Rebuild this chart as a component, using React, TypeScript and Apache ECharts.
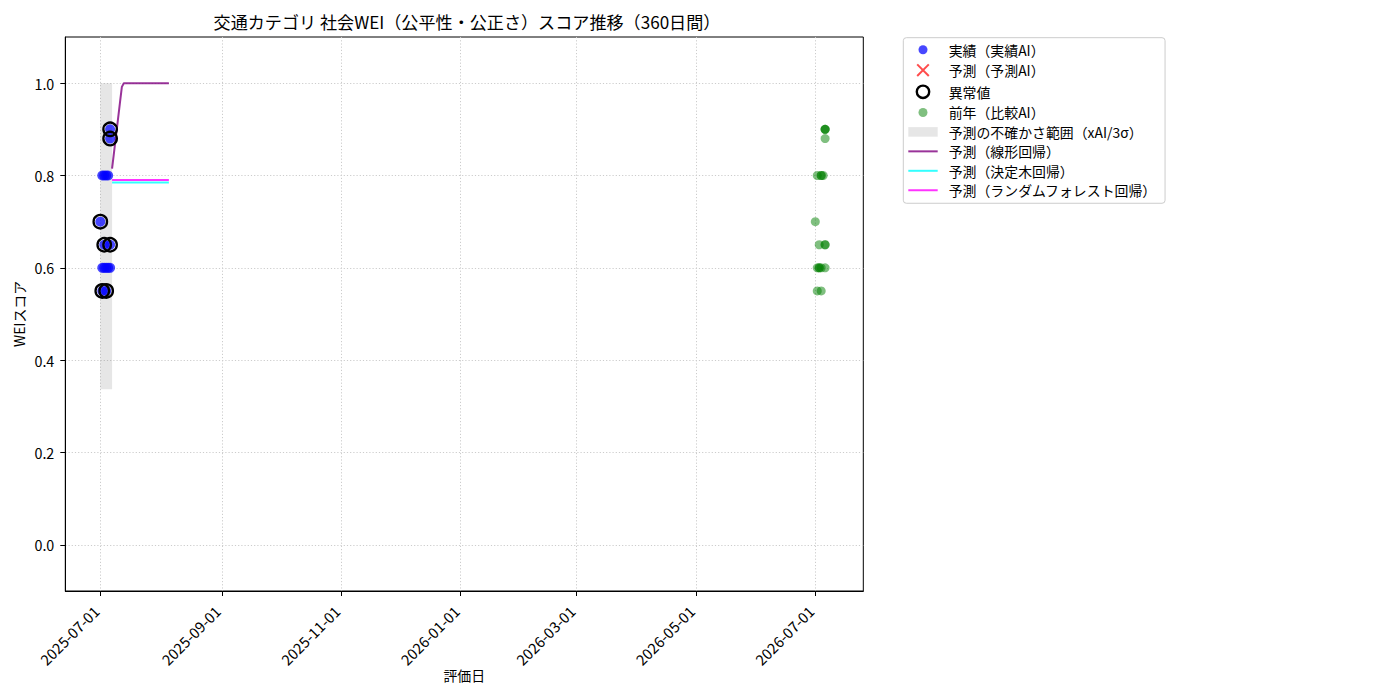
import React, { useEffect, useRef } from 'react';
import * as echarts from 'echarts';

const FONT = '"Noto Sans CJK JP", "Noto Sans", sans-serif';

const TITLE = '交通カテゴリ 社会WEI（公平性・公正さ）スコア推移（360日間）';
const X_NAME = '評価日';
const Y_NAME = 'WEIスコア';

const X_TICKS = ['2025-07-01', '2025-09-01', '2025-11-01', '2026-01-01', '2026-03-01', '2026-05-01', '2026-07-01'];
const Y_TICKS = [0.0, 0.2, 0.4, 0.6, 0.8, 1.0];
const X_MIN = '2025-06-13T03:00:00Z';
const X_MAX = '2026-07-25T12:00:00Z';
const Y_MIN = -0.1;
const Y_MAX = 1.1;

const NAME_ACTUAL = '実績（実績AI）';
const NAME_PRED = '予測（予測AI）';
const NAME_ANOM = '異常値';
const NAME_PREV = '前年（比較AI）';
const NAME_BAND = '予測の不確かさ範囲（xAI/3σ）';
const NAME_LIN = '予測（線形回帰）';
const NAME_TREE = '予測（決定木回帰）';
const NAME_RF = '予測（ランダムフォレスト回帰）';

// 実績
const actualDates = [
  '2025-07-01',
  '2025-07-02', '2025-07-02', '2025-07-02',
  '2025-07-03', '2025-07-03', '2025-07-03',
  '2025-07-04', '2025-07-04', '2025-07-04',
  '2025-07-05', '2025-07-05',
  '2025-07-06', '2025-07-06', '2025-07-06', '2025-07-06',
];
const actualValues = [
  0.70,
  0.80, 0.60, 0.55,
  0.80, 0.60, 0.65,
  0.80, 0.60, 0.55,
  0.80, 0.60,
  0.90, 0.88, 0.65, 0.60,
];

// 予測AI（点なし）
const predDates: string[] = [];
const predValues: number[] = [];

// 異常値
const anomalyDates = ['2025-07-01', '2025-07-02', '2025-07-03', '2025-07-04', '2025-07-06', '2025-07-06', '2025-07-06'];
const anomalyValues = [0.70, 0.55, 0.65, 0.55, 0.90, 0.88, 0.65];

// 前年（比較AI）
const prevDates = [
  '2026-07-01',
  '2026-07-02', '2026-07-02', '2026-07-02',
  '2026-07-03', '2026-07-03', '2026-07-03',
  '2026-07-04', '2026-07-04', '2026-07-04', '2026-07-04',
  '2026-07-05',
  '2026-07-06', '2026-07-06', '2026-07-06', '2026-07-06', '2026-07-06', '2026-07-06', '2026-07-06',
];
const prevValues = [
  0.70,
  0.80, 0.60, 0.55,
  0.60, 0.60, 0.65,
  0.80, 0.80, 0.60, 0.55,
  0.80,
  0.90, 0.90, 0.90, 0.88, 0.65, 0.65, 0.60,
];

// 不確かさ範囲
const bandDates = ['2025-07-01', '2025-07-02', '2025-07-03', '2025-07-04', '2025-07-05', '2025-07-06', '2025-07-07'];
const bandLower = [0.337, 0.337, 0.337, 0.337, 0.337, 0.337, 0.337];
const bandUpper = [1.0, 1.0, 1.0, 1.0, 1.0, 1.0, 1.0];

// 予測
const forecastDates = [
  '2025-07-07', '2025-07-08', '2025-07-09', '2025-07-10', '2025-07-11', '2025-07-12', '2025-07-13',
  '2025-07-14', '2025-07-15', '2025-07-16', '2025-07-17', '2025-07-18', '2025-07-19', '2025-07-20',
  '2025-07-21', '2025-07-22', '2025-07-23', '2025-07-24', '2025-07-25', '2025-07-26', '2025-07-27',
  '2025-07-28', '2025-07-29', '2025-07-30', '2025-07-31', '2025-08-01', '2025-08-02', '2025-08-03',
  '2025-08-04', '2025-08-05',
];
const linearValues = [
  0.815, 0.850, 0.886, 0.921, 0.957, 0.992, 1.0,
  1.0, 1.0, 1.0, 1.0, 1.0, 1.0, 1.0,
  1.0, 1.0, 1.0, 1.0, 1.0, 1.0, 1.0,
  1.0, 1.0, 1.0, 1.0, 1.0, 1.0, 1.0,
  1.0, 1.0,
];
const treeValues = [
  0.785, 0.785, 0.785, 0.785, 0.785, 0.785, 0.785,
  0.785, 0.785, 0.785, 0.785, 0.785, 0.785, 0.785,
  0.785, 0.785, 0.785, 0.785, 0.785, 0.785, 0.785,
  0.785, 0.785, 0.785, 0.785, 0.785, 0.785, 0.785,
  0.785, 0.785,
];
const forestValues = [
  0.79, 0.79, 0.79, 0.79, 0.79, 0.79, 0.79,
  0.79, 0.79, 0.79, 0.79, 0.79, 0.79, 0.79,
  0.79, 0.79, 0.79, 0.79, 0.79, 0.79, 0.79,
  0.79, 0.79, 0.79, 0.79, 0.79, 0.79, 0.79,
  0.79, 0.79,
];

const ts = (d: string) => +new Date(d.length === 10 ? d + 'T00:00:00Z' : d);
const pairs = (dates: string[], vals: number[]) => dates.map((d, i) => [ts(d), vals[i]]);

const BLUE = 'rgba(0,0,255,0.72)';
const RED = 'rgba(255,0,0,0.7)';
const GREEN = 'rgba(0,128,0,0.5)';
const BAND = 'rgba(128,128,128,0.2)';
const PURPLE = 'rgba(128,0,128,0.8)';
const CYAN = 'rgba(0,255,255,0.8)';
const MAGENTA = 'rgba(255,0,255,0.8)';

const ICON_DOT = 'path://M0 0 M14 14 M11.5 7 A4.5 4.5 0 1 1 2.5 7 A4.5 4.5 0 1 1 11.5 7 Z';
const ICON_RING = 'path://M0 0 M14 14 M13.2 7 A6.2 6.2 0 1 1 0.8 7 A6.2 6.2 0 1 1 13.2 7 Z';
const ICON_X = 'path://M0 0 M14 14 M1.2 1.2 L12.8 12.8 M12.8 1.2 L1.2 12.8';
const ICON_BAND = 'path://M0 0 M0 2.2 L29.4 2.2 L29.4 11.8 L0 11.8 Z M29.4 14';

export default function App() {
  const ref = useRef<HTMLDivElement>(null);

  useEffect(() => {
    if (!ref.current) return;
    const chart = echarts.init(ref.current, undefined, { renderer: 'svg' });
    const bandTs = bandDates.map(ts);
    const xTickTs = X_TICKS.map(ts);

    const option: any = {
      animation: false,
      backgroundColor: '#ffffff',
      textStyle: { fontFamily: FONT, color: '#000' },
      title: {
        text: TITLE,
        left: 462,
        top: 8,
        textAlign: 'center',
        textStyle: { fontFamily: FONT, fontSize: 17.1, fontWeight: 'normal', color: '#000' },
      },
      grid: {
        left: 65.3,
        top: 37,
        width: 798,
        height: 554,
        show: true,
        borderColor: '#000',
        borderWidth: 1,
        backgroundColor: 'transparent',
        containLabel: false,
        outerBoundsMode: 'none',
      },
      legend: {
        orient: 'vertical',
        left: 903.3,
        top: 37.7,
        itemWidth: 29.4,
        itemHeight: 14,
        itemGap: 5.45,
        padding: [5, 8, 6, 4],
        borderColor: '#cccccc',
        borderWidth: 1,
        borderRadius: 3,
        backgroundColor: '#ffffff',
        selectedMode: false,
        textStyle: { fontFamily: FONT, fontSize: 13.9, lineHeight: 14, color: '#000', padding: [0, 0, 0, 6] },
        data: [
          { name: NAME_ACTUAL, icon: ICON_DOT, itemStyle: { opacity: 1 } },
          { name: NAME_PRED, icon: ICON_X, itemStyle: { color: 'transparent', borderColor: RED, borderWidth: 2, opacity: 1 } },
          { name: NAME_ANOM, icon: ICON_RING, itemStyle: { color: 'transparent', borderColor: '#000', borderWidth: 2.4, opacity: 1 } },
          { name: NAME_PREV, icon: ICON_DOT, itemStyle: { color: GREEN, opacity: 1 } },
          { name: NAME_BAND, icon: ICON_BAND, itemStyle: { color: BAND, opacity: 1 } },
          { name: NAME_LIN, itemStyle: { opacity: 0 } },
          { name: NAME_TREE, itemStyle: { opacity: 0 } },
          { name: NAME_RF, itemStyle: { opacity: 0 } },
        ],
      },
      xAxis: {
        type: 'value',
        min: ts(X_MIN),
        max: ts(X_MAX),
        name: X_NAME,
        nameLocation: 'middle',
        nameGap: 77,
        nameMoveOverlap: false,
        nameTextStyle: { fontFamily: FONT, fontSize: 13.9, color: '#000' },
        axisLine: { show: true, onZero: false, lineStyle: { color: '#000', width: 1 } },
        axisTick: { show: true, length: 5, customValues: xTickTs, lineStyle: { color: '#000', width: 1 } },
        axisLabel: {
          show: true,
          customValues: xTickTs,
          rotate: 45,
          margin: 13,
          padding: [0, 6, 0, 0],
          fontFamily: FONT,
          fontSize: 14.8,
          color: '#000',
          hideOverlap: false,
          formatter: (v: number) => new Date(v).toISOString().slice(0, 10),
        },
        splitLine: { show: true, lineStyle: { color: '#cccccc', width: 1, type: [1.2, 2] } },
      },
      yAxis: {
        type: 'value',
        min: Y_MIN,
        max: Y_MAX,
        name: Y_NAME,
        nameLocation: 'middle',
        nameGap: 39,
        nameMoveOverlap: false,
        nameRotate: 90,
        nameTextStyle: { fontFamily: FONT, fontSize: 13.9, color: '#000' },
        axisLine: { show: true, onZero: false, lineStyle: { color: '#000', width: 1 } },
        axisTick: { show: true, length: 5, customValues: Y_TICKS, lineStyle: { color: '#000', width: 1 } },
        axisLabel: {
          show: true,
          customValues: Y_TICKS,
          margin: 11,
          fontFamily: FONT,
          fontSize: 14.3,
          color: '#000',
          formatter: (v: number) => v.toFixed(1),
        },
        splitLine: { show: true, lineStyle: { color: '#cccccc', width: 1, type: [1.2, 2] } },
      },
      series: [
        {
          type: 'custom',
          name: NAME_BAND,
          data: bandDates.map((d, i) => [ts(d), bandLower[i], bandUpper[i]]),
          encode: { x: 0, y: [1, 2] },
          itemStyle: { color: BAND },
          z: 1,
          silent: true,
          clip: true,
          renderItem: (params: any, api: any) => {
            if (params.dataIndex !== 0) return null;
            const up = bandTs.map((t, i) => api.coord([t, bandUpper[i]]));
            const lo = bandTs.map((t, i) => api.coord([t, bandLower[i]])).reverse();
            return {
              type: 'polygon',
              shape: { points: up.concat(lo) },
              style: { fill: BAND, stroke: 'none' },
            };
          },
        },
        {
          type: 'line',
          name: NAME_LIN,
          data: pairs(forecastDates, linearValues),
          symbol: 'none',
          showSymbol: false,
          lineStyle: { color: PURPLE, width: 2 },
          itemStyle: { color: PURPLE },
          z: 2,
          silent: true,
        },
        {
          type: 'line',
          name: NAME_TREE,
          data: pairs(forecastDates, treeValues),
          symbol: 'none',
          showSymbol: false,
          lineStyle: { color: CYAN, width: 2 },
          itemStyle: { color: CYAN },
          z: 2,
          silent: true,
        },
        {
          type: 'line',
          name: NAME_RF,
          data: pairs(forecastDates, forestValues),
          symbol: 'none',
          showSymbol: false,
          lineStyle: { color: MAGENTA, width: 2 },
          itemStyle: { color: MAGENTA },
          z: 2,
          silent: true,
        },
        {
          type: 'scatter',
          name: NAME_ACTUAL,
          data: pairs(actualDates, actualValues),
          symbol: 'circle',
          symbolSize: 10,
          itemStyle: { color: BLUE, opacity: 1 },
          z: 3,
          silent: true,
        },
        {
          type: 'scatter',
          name: NAME_PRED,
          data: pairs(predDates, predValues),
          symbol: 'path://M0 0 L10 10 M10 0 L0 10',
          symbolSize: 12,
          itemStyle: { color: RED, borderColor: RED, borderWidth: 2, opacity: 1 },
          z: 3,
          silent: true,
        },
        {
          type: 'scatter',
          name: NAME_ANOM,
          data: pairs(anomalyDates, anomalyValues),
          symbol: 'circle',
          symbolSize: 13.5,
          itemStyle: { color: 'transparent', borderColor: '#000', borderWidth: 2.3, opacity: 1 },
          z: 4,
          silent: true,
        },
        {
          type: 'scatter',
          name: NAME_PREV,
          data: pairs(prevDates, prevValues),
          symbol: 'circle',
          symbolSize: 9,
          itemStyle: { color: GREEN, opacity: 1 },
          z: 3,
          silent: true,
        },
      ],
    };

    chart.setOption(option);
    return () => {
      chart.dispose();
    };
  }, []);

  return (
    <div
      ref={ref}
      style={{ position: 'fixed', left: 0, top: 0, width: 1400, height: 700, background: '#fff' }}
    />
  );
}
